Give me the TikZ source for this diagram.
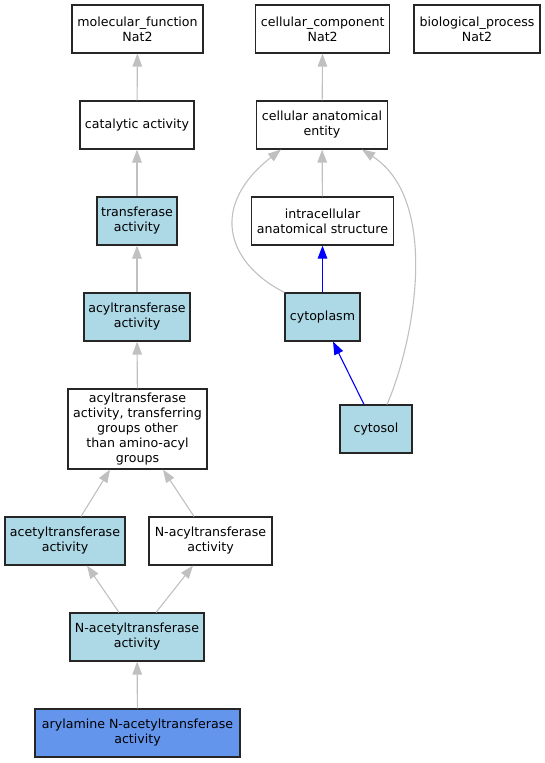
\documentclass[tikz,border=0pt]{standalone}
\usepackage{fontspec}
\setmainfont{DejaVu Sans}
\usetikzlibrary{arrows.meta}
\definecolor{edgegray}{HTML}{C0C0C0}
\definecolor{lblue}{HTML}{ADD8E6}
\definecolor{cblue}{HTML}{6495ED}
\begin{document}
\begin{tikzpicture}[x=1pt,y=-1pt,
  box/.style={draw=black!85,line width=1.1pt,inner sep=0pt,align=center,minimum height=48pt,
    font=\fontsize{12.6}{15}\selectfont},
  gedge/.style={draw=edgegray,line width=1.1pt,-{Triangle[length=13pt,width=9.5pt]}},
  bedge/.style={draw=blue,line width=1.1pt,-{Triangle[length=13pt,width=9.5pt]}}]
\useasboundingbox (0,0) rectangle (545,763);
% left column
\node[box,minimum width=131pt] (mf) at (137.5,29) {molecular\_function\\Nat2};
\node[box,minimum width=114pt] (cat) at (137,125) {catalytic activity};
\node[box,minimum width=80pt,fill=lblue] (tr) at (137,221) {transferase\\activity};
\node[box,minimum width=106pt,fill=lblue] (acyl) at (137,317) {acyltransferase\\activity};
\node[box,minimum width=139pt,minimum height=80pt] (other) at (137.5,429) {acyltransferase\\activity, transferring\\groups other\\than amino-acyl\\groups};
\node[box,minimum width=120pt,fill=lblue] (acet) at (65,541) {acetyltransferase\\activity};
\node[box,minimum width=123pt] (nacyl) at (210.5,541) {N-acyltransferase\\activity};
\node[box,minimum width=134pt,fill=lblue] (nacet) at (137,637) {N-acetyltransferase\\activity};
\node[box,minimum width=205pt,fill=cblue] (aryl) at (137.5,733) {arylamine N-acetyltransferase\\activity};
% right side
\node[box,minimum width=134pt] (cc) at (322.7,29) {cellular\_component\\Nat2};
\node[box,minimum width=126pt] (bp) at (477,29) {biological\_process\\Nat2};
\node[box,minimum width=131pt] (cae) at (322,125) {cellular anatomical\\entity};
\node[box,minimum width=141.6pt] (intra) at (322.5,221) {intracellular\\anatomical structure};
\node[box,minimum width=75pt,fill=lblue] (cyto) at (322.5,317) {cytoplasm};
\node[box,minimum width=72pt,fill=lblue] (sol) at (376,429) {cytosol};
% edges
\draw[gedge] (cat) -- (mf);
\draw[gedge] (tr) -- (cat);
\draw[gedge] (acyl) -- (tr);
\draw[gedge] (other) -- (acyl);
\draw[gedge] ([xshift=16pt]acet.north) -- ([xshift=-27.5pt]other.south);
\draw[gedge] ([xshift=-16.5pt]nacyl.north) -- ([xshift=25.5pt]other.south);
\draw[gedge] ([xshift=-18pt]nacet.north) -- ([xshift=22pt]acet.south);
\draw[gedge] ([xshift=19pt]nacet.north) -- ([xshift=-17.5pt]nacyl.south);
\draw[gedge] (aryl) -- (nacet);
\draw[gedge] (cae) -- (cc);
\draw[gedge] (intra) -- (cae);
\draw[bedge] (cyto) -- (intra);
\draw[bedge] ([xshift=-12pt]sol.north) -- ([xshift=10.5pt]cyto.south);
\draw[gedge] (cyto.north west) .. controls (225,262) and (210,205) .. ([xshift=-41pt]cae.south);
\draw[gedge] ([xshift=11pt]sol.north) .. controls (415,340) and (440,200) .. ([xshift=40pt]cae.south);
\end{tikzpicture}
\end{document}
